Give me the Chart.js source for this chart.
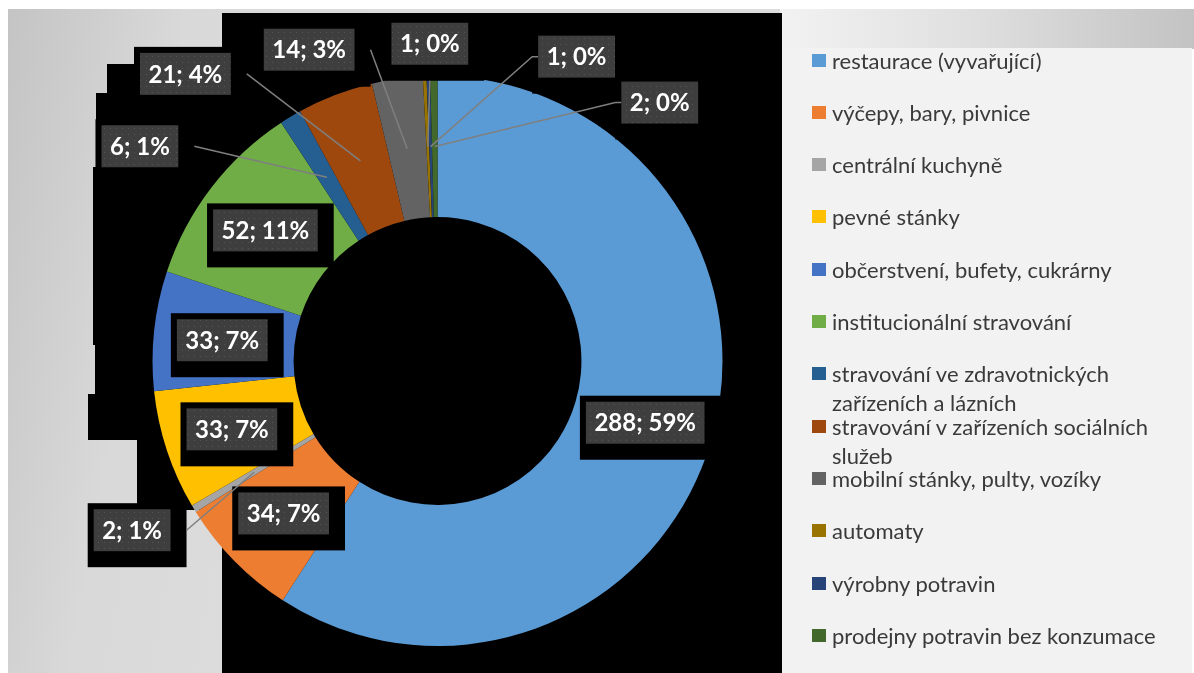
<!DOCTYPE html>
<html>
<head>
<meta charset="utf-8">
<script src="https://cdn.jsdelivr.net/npm/chart.js@4"></script>
<style>
  html, body { margin: 0; padding: 0; background: #fff; }
  #page { position: relative; width: 1194px; height: 673px; overflow: hidden; }
  .bg-left { position: absolute; left: 8px; top: 9px; width: 780px; height: 664px;
    background: linear-gradient(100deg, #c4c4c4 0%, #d9d9d9 20%, #dcdcdc 40%); }
  .bg-top { position: absolute; left: 780px; top: 9px; width: 414px; height: 40px;
    background: linear-gradient(90deg, #f2f2f2 0%, #e0e0e0 45%, #c3c3c3 100%); }
  .bg-legend { position: absolute; left: 782px; top: 48px; width: 410px; height: 625px; background: #f2f2f2; }
  .bg-black { position: absolute; left: 0; top: 0; width: 1194px; height: 673px; background: #000;
    clip-path: polygon(222px 13px, 782px 13px, 782px 673px, 222px 673px, 222px 510px, 137px 510px,
      137px 440px, 88px 440px, 88px 394px, 95px 394px, 95px 345px, 93px 345px, 93px 167px,
      107px 167px, 107px 142px, 96px 142px, 96px 93px, 107px 93px, 107px 64px, 134px 64px,
      134px 48px, 222px 48px); }
  #chartBox { position: absolute; left: 0; top: 0; width: 1194px; height: 673px; }
  #legend { position: absolute; left: 812px; top: 0; width: 370px; font-family: Lato, sans-serif;
    font-size: 22px; color: #3a3a3a; }
  .item { position: absolute; left: 0; width: 370px; }
  .item .box { position: absolute; left: 0; top: 8px; width: 14px; height: 13px; }
  .item .txt { position: absolute; left: 20px; top: 0; width: 345px; line-height: 29px; white-space: normal; }
</style>
</head>
<body>
<div id="page">
  <div class="bg-left"></div>
  <div class="bg-top"></div>
  <div class="bg-legend"></div>
  <div class="bg-black"></div>
  <div id="chartBox"><canvas id="chart"></canvas></div>
  <div id="legend"></div>
</div>
<script>
// data z grafu
const categories = [
  'restaurace (vyvařující)',
  'výčepy, bary, pivnice',
  'centrální kuchyně',
  'pevné stánky',
  'občerstvení, bufety, cukrárny',
  'institucionální stravování',
  'stravování ve zdravotnických zařízeních a lázních',
  'stravování v zařízeních sociálních služeb',
  'mobilní stánky, pulty, vozíky',
  'automaty',
  'výrobny potravin',
  'prodejny potravin bez konzumace'
];
const counts = [288, 34, 2, 33, 33, 52, 6, 21, 14, 1, 1, 2];
const percentLabels = ['59%', '7%', '1%', '7%', '7%', '11%', '1%', '4%', '3%', '0%', '0%', '0%'];
const sliceColors = ['#5B9BD5', '#ED7D31', '#A5A5A5', '#FFC000', '#4472C4', '#70AD47',
                     '#255E91', '#9E480E', '#636363', '#997300', '#264478', '#43682B'];

// posun popisku od stredu prstence (px), 0 = uvnitr vysece
const labelOffsets = [[2, 1], [-1, 2], [-122, 58], [-2, 1], [-2, 2], [-2, 0],
                      [-187, -31], [-175, -87], [-98, -99], [2, -103], [146, -90], [225, -44]];

// vzor pro tmave boxy popisku
function makePattern(ctx) {
  const c = document.createElement('canvas');
  c.width = 6; c.height = 6;
  const g = c.getContext('2d');
  g.fillStyle = '#3e3e3e';
  g.fillRect(0, 0, 6, 6);
  g.fillStyle = '#565656';
  g.fillRect(2, 2, 1, 1);
  return ctx.createPattern(c, 'repeat');
}

const dataLabelPlugin = {
  id: 'dataLabels',
  afterDatasetsDraw(chart) {
    const ctx = chart.ctx;
    const meta = chart.getDatasetMeta(0);
    const pattern = makePattern(ctx);
    ctx.save();
    ctx.font = 'bold 24px Lato';
    const boxes = meta.data.map((arc, i) => {
      const p = arc.getProps(['x', 'y', 'startAngle', 'endAngle', 'innerRadius', 'outerRadius'], true);
      const mid = (p.startAngle + p.endAngle) / 2;
      const r = (p.innerRadius + p.outerRadius) / 2;
      const tx = p.x + Math.cos(mid) * r;
      const ty = p.y + Math.sin(mid) * r;
      const text = counts[i] + '; ' + percentLabels[i];
      const w = ctx.measureText(text).width + 17;
      const h = 42;
      const cx = tx + labelOffsets[i][0];
      const cy = ty + labelOffsets[i][1];
      const outside = Math.abs(labelOffsets[i][0]) + Math.abs(labelOffsets[i][1]) > 20;
      return { tx, ty, cx, cy, w, h, text, outside };
    });

    // cerne podklady
    ctx.fillStyle = '#000';
    boxes.forEach(b => {
      ctx.fillRect(b.cx - b.w / 2 - 6, b.cy - b.h / 2 - 6, b.w + 22, b.h + 22);
    });

    // odkazove cary
    ctx.strokeStyle = '#7f7f7f';
    ctx.lineWidth = 1.5;
    boxes.forEach(b => {
      if (!b.outside) return;
      ctx.beginPath();
      const left = b.cx - b.w / 2, right = b.cx + b.w / 2;
      if (b.tx > left && b.tx < right) {
        ctx.moveTo(b.cx, b.cy + b.h / 2 + 16);
      } else if (b.tx >= right) {
        ctx.moveTo(right + 16, b.cy);
      } else {
        ctx.moveTo(left, b.cy);
        ctx.lineTo(left - 6, b.cy);
      }
      ctx.lineTo(b.tx, b.ty);
      ctx.stroke();
    });

    // boxy s textem
    ctx.textAlign = 'center';
    ctx.textBaseline = 'middle';
    boxes.forEach(b => {
      ctx.fillStyle = pattern;
      ctx.fillRect(b.cx - b.w / 2, b.cy - b.h / 2, b.w, b.h);
      ctx.fillStyle = '#ffffff';
      ctx.fillText(b.text, b.cx, b.cy + 1);
    });
    ctx.restore();
  }
};

// HTML legenda podle dat grafu
const htmlLegendPlugin = {
  id: 'htmlLegend',
  afterUpdate(chart) {
    const box = document.getElementById('legend');
    box.innerHTML = '';
    const items = chart.options.plugins.legend.labels.generateLabels(chart);
    items.forEach((it, i) => {
      const row = document.createElement('div');
      row.className = 'item';
      row.style.top = (60 + i * 52.3 - 14.5) + 'px';
      const sw = document.createElement('span');
      sw.className = 'box';
      sw.style.background = it.fillStyle;
      const tx = document.createElement('span');
      tx.className = 'txt';
      tx.textContent = it.text;
      row.appendChild(sw);
      row.appendChild(tx);
      box.appendChild(row);
    });
  }
};

const ctx = document.getElementById('chart').getContext('2d');
const chart = new Chart(ctx, {
  type: 'doughnut',
  data: {
    labels: categories,
    datasets: [{
      data: counts,
      backgroundColor: sliceColors,
      borderWidth: 0
    }]
  },
  options: {
    responsive: true,
    maintainAspectRatio: false,
    animation: false,
    cutout: '50.5%',
    layout: { padding: { left: 152, right: 471, top: 76, bottom: 27 } },
    plugins: {
      legend: { display: false },
      tooltip: { enabled: false }
    }
  },
  plugins: [dataLabelPlugin, htmlLegendPlugin]
});
</script>
</body>
</html>
